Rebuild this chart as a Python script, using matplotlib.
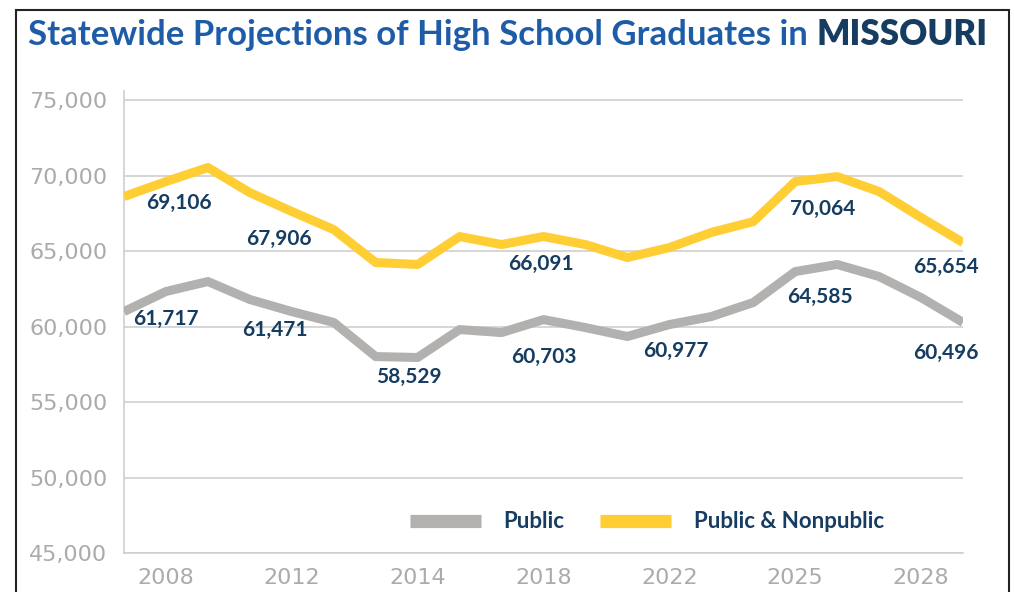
import matplotlib
matplotlib.use('Agg')
import matplotlib.pyplot as plt
from matplotlib.lines import Line2D
from matplotlib.patches import Rectangle
from matplotlib.ticker import FuncFormatter

# yearly values (21 points)
public = [60990, 62320, 62980, 61790, 60990, 60270, 58010, 57950, 59800, 59600,
          60460, 59930, 59340, 60130, 60660, 61590, 63640, 64110, 63310, 61920, 60270]
public_nonpublic = [68610, 69600, 70530, 68870, 67620, 66420, 64240, 64110, 65960, 65430,
                    65960, 65430, 64570, 65230, 66230, 66950, 69600, 69930, 68940, 67220, 65560]

tick_labels = ['2008', '2012', '2014', '2018', '2022', '2025', '2028']
tick_pos = [1, 4, 7, 10, 13, 16, 19]

# callout values printed on the chart
label_text = ['69,106', '67,906', '66,091', '70,064', '65,654',
              '61,717', '61,471', '58,529', '60,703', '60,977', '64,585', '60,496']
# where each callout sits (x index, y value)
label_x = [1.3, 3.7, 9.95, 16.65, 19.6, 1.0, 3.6, 6.8, 10.0, 13.15, 16.6, 19.6]
label_y = [68210, 65830, 64170, 67810, 63970, 60530, 59800, 56690, 58010, 58410, 61990, 58280]

GRAY = '#b3b1af'
YELLOW = '#ffcd34'
NAVY = '#163d61'
BLUE = '#1e5ca8'
TICK = '#ababab'
GRID = '#cfcfcf'

plt.rcParams['font.family'] = ['Lato', 'DejaVu Sans']

fig = plt.figure(figsize=(10.14, 5.92), dpi=100)
ax = fig.add_axes([124 / 1014, 1 - 553 / 592, (963 - 124) / 1014, (553 - 91) / 592])

x = list(range(len(public)))
ax.plot(x, public, color=GRAY, lw=6.5, solid_joinstyle='round', solid_capstyle='butt', zorder=3)
ax.plot(x, public_nonpublic, color=YELLOW, lw=6.5, solid_joinstyle='round', solid_capstyle='butt', zorder=3)

for t, lx, ly in zip(label_text, label_x, label_y):
    ax.text(lx, ly, t, color=NAVY, fontsize=15, fontweight='bold', ha='center', va='center', zorder=4)

ax.set_xlim(0, 20)
ax.set_ylim(45000, 75600)
ax.set_yticks(range(45000, 75001, 5000))
ax.yaxis.set_major_formatter(FuncFormatter(lambda v, p: '{:,.0f}'.format(v)))
ax.set_xticks(tick_pos)
ax.set_xticklabels(tick_labels)
ax.tick_params(axis='both', length=0, labelcolor=TICK)
for lab in ax.get_xticklabels() + ax.get_yticklabels():
    lab.set_family('DejaVu Sans')
    lab.set_fontsize(16)
ax.tick_params(axis='y', pad=12)
ax.tick_params(axis='x', pad=11)
ax.grid(axis='y', color=GRID, lw=1.2)
ax.set_axisbelow(True)
for s in ['top', 'right']:
    ax.spines[s].set_visible(False)
for s in ['left', 'bottom']:
    ax.spines[s].set_color(GRID)
    ax.spines[s].set_linewidth(1.2)

handles = [Line2D([], [], color=GRAY, lw=9.5, solid_capstyle='butt'),
           Line2D([], [], color=YELLOW, lw=9.5, solid_capstyle='butt')]
leg = ax.legend(handles, ['Public', 'Public & Nonpublic'], loc='center',
                bbox_to_anchor=(647 / 1014, 1 - 522 / 592), bbox_transform=fig.transFigure,
                ncol=2, frameon=False, handlelength=3.2, handletextpad=1.0, columnspacing=1.6,
                prop={'size': 16, 'weight': 'bold'})
for txt in leg.get_texts():
    txt.set_color(NAVY)

# two-colour title
t1 = fig.text(28 / 1014, 1 - 45 / 592, 'Statewide Projections of High School Graduates in ',
              color=BLUE, fontsize=25, fontweight='bold', ha='left', va='baseline')
fig.canvas.draw()
ax.annotate('MISSOURI', xy=(1, 0), xycoords=t1, color=NAVY, fontsize=25, fontweight='heavy',
            ha='left', va='bottom', annotation_clip=False)

# thin black frame around the graphic
fig.add_artist(Rectangle((16 / 1014, -0.05), (1009 - 16) / 1014, 1.05 - 10 / 592,
                         transform=fig.transFigure, fill=False, edgecolor='#222222', lw=1.5))

fig.savefig('out.png', dpi=100)
